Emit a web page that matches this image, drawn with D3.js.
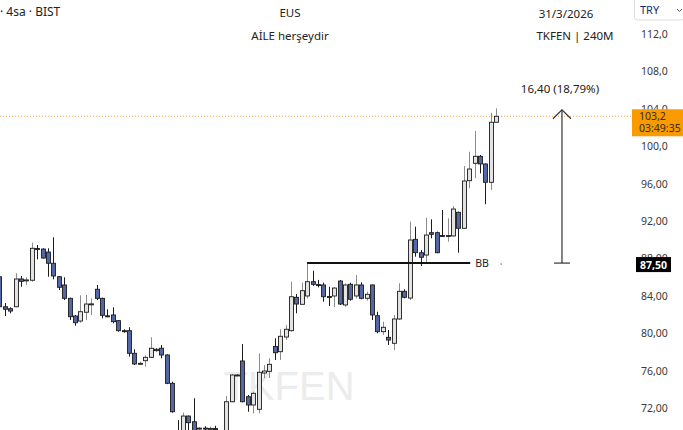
<!DOCTYPE html>
<html><head><meta charset="utf-8">
<script src="https://cdn.jsdelivr.net/npm/d3@7"></script>
<style>
html,body{margin:0;padding:0;background:#fff;}
svg{display:block;font-family:"Noto Sans","Liberation Sans",sans-serif;}
</style></head>
<body>
<svg id="chart" width="683" height="430"></svg>
<script>
// ---- data (4h candles, TKFEN) ----
const opens  = [86.04,82.83,82.62,82.83,85.80,85.62,85.66,89.06,89.00,88.68,87.48,86.04,85.16,83.73,81.84,81.30,82.24,83.12,84.70,83.73,81.86,81.95,81.34,80.27,80.27,77.85,76.75,77.06,77.42,78.28,78.39,77.67,74.64,69.50,68.90,71.14,70.53,69.80,69.85,69.80,69.80,69.40,69.30,72.67,75.53,77.03,73.21,72.32,71.86,75.74,75.92,78.58,78.02,79.59,80.27,83.84,83.09,83.98,85.51,85.20,85.16,83.92,83.98,85.58,83.02,85.23,83.98,85.16,83.73,85.16,81.87,80.16,79.56,78.92,81.52,84.48,83.76,90.04,88.61,88.36,90.75,90.75,90.45,90.43,90.40,92.93,91.22,96.31,98.17,98.92,98.10,96.14,102.56];
const highs  = [86.76,83.23,82.77,86.41,86.12,85.98,89.68,89.43,89.08,89.08,90.26,86.12,85.98,83.80,81.95,84.05,84.09,83.73,85.16,83.80,82.56,82.77,81.41,80.42,80.63,78.28,76.95,77.64,79.56,78.39,78.74,77.75,74.81,70.70,71.50,71.20,73.04,69.95,70.05,70.00,70.10,69.50,73.28,75.60,75.60,78.84,73.39,73.74,77.85,76.60,77.32,79.45,80.42,80.88,85.51,84.19,85.40,87.50,86.68,85.70,85.40,84.97,84.91,85.69,85.34,85.40,86.22,85.44,84.44,85.20,82.30,81.23,80.34,81.95,85.34,84.70,91.93,91.39,88.90,92.35,92.18,90.86,93.18,92.29,93.60,93.00,97.88,99.41,101.63,99.06,98.15,103.58,104.05];
const lows   = [82.48,81.84,82.13,82.77,84.97,85.16,85.51,87.90,87.97,86.04,85.76,84.62,83.55,81.41,80.80,81.12,81.41,81.95,83.55,81.59,81.70,81.06,80.16,80.05,77.49,76.60,76.60,76.42,77.35,78.05,77.32,74.55,71.50,68.60,68.70,69.60,69.40,69.50,69.60,69.50,69.60,68.80,69.00,72.60,75.45,72.60,71.60,71.43,71.43,75.18,75.21,77.13,77.13,79.27,80.16,82.13,83.02,83.73,85.05,84.90,83.37,82.91,82.77,83.02,82.83,83.48,83.73,83.63,83.48,81.41,79.99,79.81,78.74,78.20,81.41,83.73,83.55,88.18,87.19,87.48,90.15,88.55,90.32,89.79,90.32,88.61,91.15,95.50,96.60,97.10,93.79,95.32,102.50];
const closes = [82.83,82.56,82.37,85.80,85.55,85.70,89.08,89.02,88.04,87.48,86.12,84.91,83.73,81.76,81.12,82.30,83.12,83.14,83.73,81.91,81.84,81.23,80.27,80.25,77.85,76.71,76.78,77.42,78.39,78.13,77.67,74.64,71.60,68.90,71.14,70.43,69.60,69.85,69.80,69.82,69.75,69.00,72.67,75.53,75.50,72.67,72.32,73.57,75.82,75.96,76.67,77.91,79.67,80.42,83.90,83.12,84.55,85.51,85.23,85.19,83.90,83.88,84.83,83.12,85.16,83.63,85.16,83.73,84.16,81.95,80.16,80.63,79.27,81.52,84.48,83.84,89.97,88.61,88.12,90.50,90.58,88.61,90.42,90.45,93.28,91.22,96.28,97.56,98.92,98.10,96.14,102.56,103.20];

const yTicks = [112,108,104,100,96,92,88,84,80,76,72];
const yTickLabels = ["112,0","108,0","104,0","100,0","96,00","92,00","88,00","84,00","80,00","76,00","72,00"];

const lastPrice = 103.2, lastPriceLabel = "103,2", countdown = "03:49:35";
const bbLevel = 87.5, bbLabel = "87,50", bbStartIdx = 58, bbEndIdx = 88.2;
const measureFrom = 87.5, measureTo = 103.9, measureIdx = 105.2, measureText = "16,40 (18,79%)";

const titleLeft = "· 4sa · BIST";
const titleCenter1 = "EUS", titleCenter2 = "AİLE herşeydir";
const titleRight1 = "31/3/2026", titleRight2 = "TKFEN | 240M";
const currency = "TRY", watermark = "TKFEN";

// ---- layout ----
const W = 683, H = 430, plotRight = 632;
const svg = d3.select("#chart");
const idx = d3.range(1, opens.length + 1);
const x = d3.scaleLinear().domain([1, 93]).range([-0.7, 496.1]);
const y = d3.scaleLinear().domain([72, 112]).range([408, 34]);
const bodyW = 4;

svg.append("defs").append("clipPath").attr("id","plotclip")
  .append("rect").attr("x",0).attr("y",0).attr("width",plotRight).attr("height",H);

// watermark
svg.append("text").attr("x", 289).attr("y", 400).attr("text-anchor","middle")
  .attr("font-size", 40).attr("fill", "#ececec").attr("font-family","Liberation Sans, sans-serif")
  .text(watermark);

const plot = svg.append("g").attr("clip-path","url(#plotclip)");

// last price dotted line
plot.append("line").attr("x1",0).attr("x2",plotRight)
  .attr("y1", y(lastPrice)).attr("y2", y(lastPrice))
  .attr("stroke","#f5a14a").attr("stroke-width",1).attr("stroke-dasharray","1,2");

// candles
const cg = plot.append("g");
idx.forEach((i, k) => {
  const o = opens[k], h = highs[k], l = lows[k], c = closes[k];
  const up = c >= o;
  const cx = Math.round(x(i)) + 0.5;
  cg.append("line").attr("x1", cx).attr("x2", cx)
    .attr("y1", y(h)).attr("y2", y(l))
    .attr("stroke", up ? "#8c8c8c" : "#1c1c1c").attr("stroke-width", 1);
  const top = y(Math.max(o, c)), bot = y(Math.min(o, c));
  cg.append("rect").attr("x", cx - bodyW/2).attr("y", top)
    .attr("width", bodyW).attr("height", Math.max(1, bot - top))
    .attr("fill", up ? "#e3e3e3" : "#5367a6")
    .attr("stroke", "#1c1c1c").attr("stroke-width", 0.9);
});

// BB line
plot.append("line").attr("x1", x(bbStartIdx)).attr("x2", x(bbEndIdx))
  .attr("y1", y(bbLevel)).attr("y2", y(bbLevel))
  .attr("stroke","#111").attr("stroke-width",2);
svg.append("text").attr("x", x(bbEndIdx) + 5).attr("y", y(bbLevel) + 4)
  .attr("font-size", 10.5).attr("fill","#222").text("BB");
svg.append("circle").attr("cx", x(bbEndIdx) + 31).attr("cy", y(bbLevel) + 1).attr("r", 0.8).attr("fill","#777");

// measure arrow
const mx = x(measureIdx);
const ag = svg.append("g").attr("stroke","#333").attr("stroke-width",1.2).attr("fill","none");
ag.append("line").attr("x1", mx).attr("x2", mx).attr("y1", y(measureTo)).attr("y2", y(measureFrom));
ag.append("path").attr("d", `M${mx-9},${y(measureTo)+9}L${mx},${y(measureTo)}L${mx+9},${y(measureTo)+9}`);
ag.append("line").attr("x1", mx-8).attr("x2", mx+8).attr("y1", y(measureFrom)).attr("y2", y(measureFrom));
svg.append("text").attr("x", mx - 2).attr("y", 93).attr("text-anchor","middle")
  .attr("font-size", 11.5).attr("fill","#222").text(measureText);

// y-axis labels
const axisG = svg.append("g");
yTicks.forEach((v, k) => {
  axisG.append("text").attr("x", 641).attr("y", y(v) + 4)
    .attr("font-size", 10.5).attr("fill","#3a3a3a").text(yTickLabels[k]);
});

// last price label
const lp = svg.append("g");
lp.append("rect").attr("x", 632).attr("y", y(lastPrice) - 7).attr("width", 51).attr("height", 27).attr("fill","#f89a00");
lp.append("text").attr("x", 639).attr("y", y(lastPrice) + 4).attr("font-size",10.5).attr("fill","#3a2a10").text(lastPriceLabel);
lp.append("text").attr("x", 639).attr("y", y(lastPrice) + 16).attr("font-size",10.5).attr("fill","#3a2a10").text(countdown);

// BB price label
const bl = svg.append("g");
bl.append("rect").attr("x", 636).attr("y", y(bbLevel) - 6).attr("width", 35).attr("height", 15).attr("fill","#000");
bl.append("text").attr("x", 653.5).attr("y", y(bbLevel) + 5.5).attr("text-anchor","middle")
  .attr("font-size", 10.5).attr("font-weight","bold").attr("fill","#fff").text(bbLabel);

// currency box
const cb = svg.append("g");
cb.append("rect").attr("x", 634.5).attr("y", -3).attr("width", 50).attr("height", 23).attr("rx", 3)
  .attr("fill","#fff").attr("stroke","#ddd");
cb.append("text").attr("x", 640).attr("y", 14).attr("font-size", 11).attr("fill","#1a2a6a").text(currency);
cb.append("path").attr("d","M677,9L679.5,11.5L682,9").attr("stroke","#555").attr("fill","none").attr("stroke-width",1);

// titles
svg.append("text").attr("x", 0).attr("y", 16).attr("font-size", 12).attr("fill","#222").text(titleLeft);
svg.append("text").attr("x", 290).attr("y", 17).attr("text-anchor","middle").attr("font-size", 11.5).attr("fill","#222").text(titleCenter1);
svg.append("text").attr("x", 290).attr("y", 40).attr("text-anchor","middle").attr("font-size", 11.5).attr("fill","#222").text(titleCenter2);
svg.append("text").attr("x", 566).attr("y", 18).attr("text-anchor","middle").attr("font-size", 11.5).attr("fill","#222").text(titleRight1);
svg.append("text").attr("x", 575).attr("y", 40).attr("text-anchor","middle").attr("font-size", 11.5).attr("fill","#222").text(titleRight2);
</script>
</body></html>
